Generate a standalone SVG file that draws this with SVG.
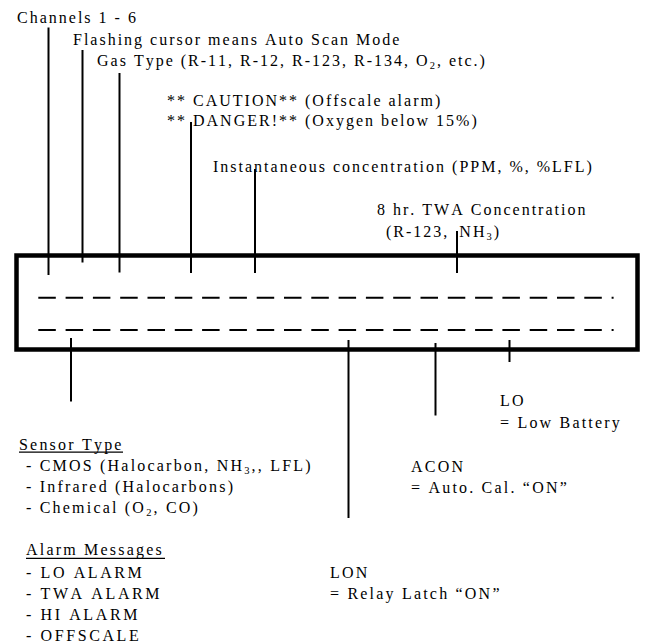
<svg xmlns="http://www.w3.org/2000/svg" width="647" height="643" viewBox="0 0 647 643">
<style>
text{font-family:"Liberation Serif","Times New Roman",serif;font-size:16px;fill:#000;letter-spacing:2px;font-kerning:none}
.b{letter-spacing:2.2px}
.w{letter-spacing:2.6px}
.sub{font-size:10.5px}
.ln{stroke:#000;stroke-width:2;fill:none}
.dash{stroke:#000;stroke-width:2;stroke-dasharray:17.5 9.8;fill:none}
.ul{stroke:#000;stroke-width:1.2}
.box{fill:none;stroke:#000;stroke-width:4.5}
</style>
<rect width="647" height="643" fill="#fff"/>
<g id="display">
<rect class="box" x="16.5" y="255.5" width="621" height="94"/>
<line class="dash" x1="38.3" y1="297.7" x2="613.6" y2="297.7"/>
<line class="dash" x1="38.3" y1="330" x2="613.6" y2="330"/>
</g>
<g id="connectors">
<line class="ln" x1="48.5" y1="27.5" x2="48.5" y2="275"/>
<line class="ln" x1="82.5" y1="50" x2="82.5" y2="262.5"/>
<line class="ln" x1="119.5" y1="73" x2="119.5" y2="272.5"/>
<line class="ln" x1="191" y1="122" x2="191" y2="273"/>
<line class="ln" x1="255" y1="169" x2="255" y2="273"/>
<line class="ln" x1="457" y1="231" x2="457" y2="273"/>
<line class="ln" x1="71" y1="338" x2="71" y2="401.5"/>
<line class="ln" x1="348.5" y1="340" x2="348.5" y2="518"/>
<line class="ln" x1="435.5" y1="343" x2="435.5" y2="415.5"/>
<line class="ln" x1="509.5" y1="340" x2="509.5" y2="362"/>
</g>
<g id="channels"><text x="17" y="23">Channels 1 - 6</text></g>
<g id="flashing"><text x="73" y="44.5">Flashing cursor means Auto Scan Mode</text></g>
<g id="gastype"><text x="97" y="66">Gas Type (R-11, R-12, R-123, R-134, O<tspan class="sub" dy="3">2</tspan><tspan dy="-3">, etc.)</tspan></text></g>
<g id="caution">
<text x="167" y="106">** CAUTION** (Offscale alarm)</text>
<text x="167" y="125.5">** DANGER!** (Oxygen below 15%)</text>
</g>
<g id="instant"><text x="213" y="172">Instantaneous concentration (PPM, %, %LFL)</text></g>
<g id="twa">
<text x="377" y="215">8 hr. TWA Concentration</text>
<text x="386" y="236.5">(R-123, <tspan dx="4">NH</tspan><tspan class="sub" dy="3">3</tspan><tspan dy="-3">)</tspan></text>
</g>
<g id="lo">
<text class="b" x="500" y="406">LO</text>
<text class="b" x="500" y="428">= Low Battery</text>
</g>
<g id="acon">
<text class="b" x="411" y="472">ACON</text>
<text class="b" x="411" y="493">= Auto. Cal. “ON”</text>
</g>
<g id="lon">
<text class="b" x="330" y="578">LON</text>
<text class="b" x="330" y="598.5">= Relay Latch “ON”</text>
</g>
<g id="sensor">
<text class="b" x="19" y="449.5">Sensor Type</text>
<line class="ul" x1="19" y1="452.2" x2="123" y2="452.2"/>
<text class="b" x="26" y="471">- CMOS (Halocarbon, NH<tspan class="sub" dy="3">3</tspan><tspan dy="-3">,, LFL)</tspan></text>
<text class="b" x="26" y="492">- Infrared (Halocarbons)</text>
<text class="b" x="26" y="513">- Chemical (O<tspan class="sub" dy="3">2</tspan><tspan dy="-3">, CO)</tspan></text>
</g>
<g id="alarms">
<text class="b" x="26" y="555">Alarm Messages</text>
<line class="ul" x1="26" y1="558.3" x2="165" y2="558.3"/>
<text class="w" x="26" y="577.5">- LO ALARM</text>
<text class="w" x="26" y="598.5">- TWA ALARM</text>
<text class="w" x="26" y="619.5">- HI ALARM</text>
<text class="w" x="26" y="640.5">- OFFSCALE</text>
</g>
</svg>
